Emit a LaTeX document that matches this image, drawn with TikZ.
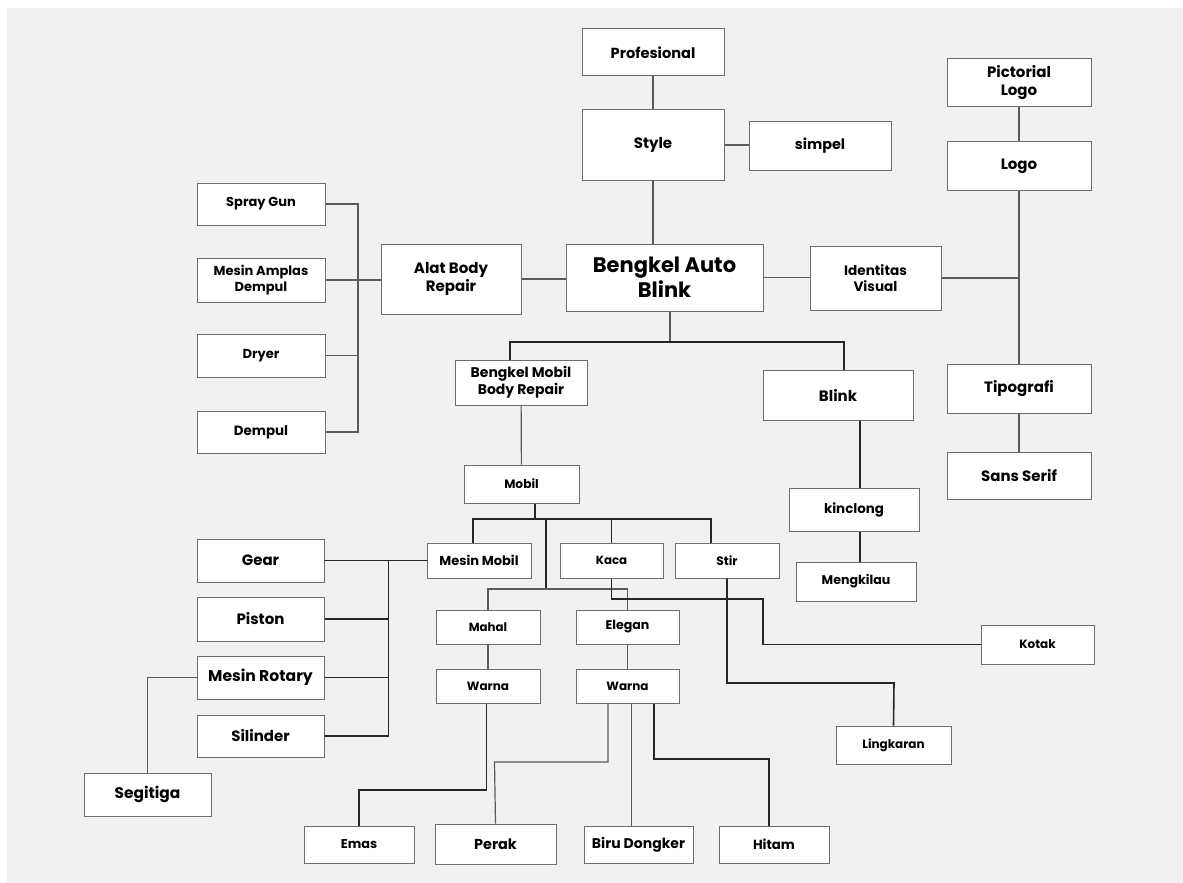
\documentclass[tikz,border=0pt]{standalone}
\usepackage{fontspec}
\setmainfont{Poppins}
\definecolor{bggrey}{HTML}{F1F1F2}
\definecolor{boxline}{HTML}{6E6E6E}
\definecolor{linkline}{HTML}{5A5A5A}
\definecolor{linkdark}{HTML}{262626}

\begin{document}
\begin{tikzpicture}[x=0.5pt, y=-0.5pt,
    box/.style 2 args={rectangle, draw=boxline, line width=0.5pt, fill=white,
      minimum width=#1*0.5pt, minimum height=#2*0.5pt, inner sep=0pt,
      align=center},
    fs/.style 2 args={font=\bfseries\fontsize{#1}{#2}\selectfont},
    link/.style={draw=linkline, line width=0.6pt},
    linkd/.style={draw=linkdark, line width=0.8pt}]
   \useasboundingbox (0,0) rectangle (1183,883);
   \fill[white] (0,0) rectangle (1183,883);
   \fill[bggrey] (7,8) rectangle (1183,883);

   \node[box={142}{47},fs={7.3}{9}] (prof) at (653,52.5) {Profesional};
   \node[box={142}{70},fs={7.5}{9}] (style) at (653,145) {Style};
   \node[box={142}{48},fs={7.2}{9}] (simpel) at (820,146) {simpel};
   \node[box={144}{48},fs={7.5}{9}] (pict) at (1019,83) {Pictorial\\Logo};
   \node[box={144}{48},fs={7.5}{9}] (logo) at (1019,166) {Logo};
   \node[box={197}{67},fs={10.5}{12.5}] (bab) at (664.5,277.5) {Bengkel Auto\\Blink};
   \node[box={131}{64},fs={6.8}{8.2}] (idvis) at (875.5,278) {Identitas\\Visual};
   \node[box={144}{49},fs={7.5}{9}] (tipo) at (1019,388.5) {Tipografi};
   \node[box={144}{47},fs={7.5}{9}] (sans) at (1019,475.5) {Sans Serif};
   \node[box={150}{50},fs={7.5}{9}] (blink) at (838,395) {Blink};
   \node[box={130}{43},fs={6.7}{8}] (kinclong) at (854,509.5) {kinclong};
   \node[box={120}{39},fs={6.3}{8}] (kilau) at (856,581.5) {Mengkilau};

   \node[box={140}{70},fs={7.5}{9}] (alat) at (451,279) {Alat Body\\Repair};
   \node[box={128}{42},fs={6.5}{8}] (spray) at (261,204) {Spray Gun};
   \node[box={128}{44},fs={6.5}{8}] (amplas) at (261,280) {Mesin Amplas\\Dempul};
   \node[box={128}{43},fs={6.5}{8}] (dryer) at (261,355.5) {Dryer};
   \node[box={128}{42},fs={6.7}{8}] (dempul) at (261,432) {Dempul};

   \node[box={132}{45},fs={7}{8.5}] (bmbr) at (521,382.5) {Bengkel Mobil\\Body Repair};
   \node[box={115}{38},fs={6.1}{8}] (mobil) at (521.5,484) {Mobil};
   \node[box={104}{35},fs={6.5}{8}] (mesin) at (479,560.5) {Mesin Mobil};
   \node[box={103}{35},fs={5.9}{8}] (kaca) at (611.5,560.5) {Kaca};
   \node[box={104}{35},fs={6.1}{8}] (stir) at (727,560.5) {Stir};
   \node[box={104}{34},fs={5.9}{8}] (mahal) at (488,627) {Mahal};
   \node[box={104}{34},fs={6}{8}] (warnaa) at (488,686) {Warna};
   \node[box={103}{34},fs={6.3}{8}] (elegan) at (627.5,627) {Elegan};
   \node[box={103}{34},fs={6}{8}] (warnab) at (627.5,686) {Warna};

   \node[box={127}{43},fs={7.5}{9}] (gear) at (260.5,560.5) {Gear};
   \node[box={127}{44},fs={7.5}{9}] (piston) at (260.5,619) {Piston};
   \node[box={127}{43},fs={7.8}{9}] (rotary) at (260.5,677.5) {Mesin Rotary};
   \node[box={127}{42},fs={7.5}{9}] (silinder) at (260.5,736) {Silinder};
   \node[box={127}{43},fs={7.7}{9}] (segitiga) at (147.5,794.5) {Segitiga};

   \node[box={110}{37},fs={6.4}{8}] (emas) at (359,844.5) {Emas};
   \node[box={121}{40},fs={7.2}{9}] (perak) at (495.5,844) {Perak};
   \node[box={109}{37},fs={7}{8}] (biru) at (638.5,844.5) {Biru Dongker};
   \node[box={110}{37},fs={6.6}{8}] (hitam) at (774,844.5) {Hitam};
   \node[box={113}{39},fs={6}{8}] (kotak) at (1037.5,644.5) {Kotak};
   \node[box={115}{38},fs={6}{8}] (lingkaran) at (893.5,745) {Lingkaran};

   \coordinate (jbab) at (670,342);
   \coordinate (jmob) at (535,519);
   \coordinate (jcol) at (546,589);
   \coordinate (jalat) at (358,280);
   \coordinate (jmesin) at (388.5,560.5);
   \coordinate (jemas) at (359,790);
   \coordinate (jperak) at (494.5,762);
   \coordinate (jhitam) at (769,759);
   \coordinate (jkaca) at (763,599);
   \coordinate (jstir) at (894,683);

   \draw[link] (prof) -- (style);
   \draw[link] (style.east) -- (style.east -| simpel.west);
   \draw[link] (style.south) -- (style.south |- bab.north);
   \draw[link] (alat.east) -- (alat.east -| bab.west);
   \draw[link] (bab.east) -- (bab.east -| idvis.west);
   \draw[link] (idvis.east) -- (idvis.east -| logo.south);
   \draw[link] (pict) -- (logo);
   \draw[link] (logo) -- (tipo);
   \draw[link] (tipo) -- (sans);

   \draw[link] (amplas.east) -- (alat.west |- amplas.east);
   \draw[link] (spray.east) -| (jalat) |- (dempul.east);
   \draw[link] (dryer.east) -- (dryer.east -| jalat);

   \draw[link] ([xshift=2.75pt]bab.south) -- (jbab);
   \draw[linkd] ([xshift=-5.5pt]bmbr.north) |- (jbab) -| ([xshift=3pt]blink.north);
   \draw[linkd] ([xshift=11pt]blink.south) -- ([xshift=11pt]blink.south |- kinclong.north);
   \draw[linkd] ([xshift=3pt]kinclong.south) -- ([xshift=3pt]kinclong.south |- kilau.north);

   \draw[link] (bmbr) -- (mobil);
   \draw[linkd] ([xshift=6.75pt]mobil.south) -- (jmob);
   \draw[linkd] ([xshift=-3pt]mesin.north) |- (jmob) -| ([xshift=-8pt]stir.north);
   \draw[linkd] (kaca.north) -- (kaca.north |- jmob);
   \draw[linkd] (jcol |- jmob) -- (jcol);
   \draw[link] (mahal.north) |- (jcol) -| (elegan.north);
   \draw[link] (mahal) -- (warnaa);
   \draw[link] (elegan) -- (warnab);

   \draw[linkd] (gear.east) -- (mesin.west);
   \draw[linkd] (jmesin) |- (silinder.east);
   \draw[linkd] (piston.east) -- (piston.east -| jmesin);
   \draw[linkd] (rotary.east) -- (rotary.east -| jmesin);
   \draw[link] (rotary.west) -| (segitiga.north);

   \draw[linkd] ([xshift=-0.75pt]warnaa.south) |- (jemas) -- (emas.north);
   \draw[link] ([xshift=-9.75pt]warnab.south) |- (jperak) -- (perak.north);
   \draw[link] ([xshift=2pt]warnab.south) -- ([xshift=2pt]warnab.south |- biru.north);
   \draw[linkd] ([xshift=13.25pt]warnab.south) |- (jhitam) -- (jhitam |- hitam.north);
   \draw[linkd] (kaca.south) |- (jkaca) |- (kotak.west);
   \draw[linkd] (stir.south) |- (jstir) -- (lingkaran.north);
 \end{tikzpicture}
\end{document}
